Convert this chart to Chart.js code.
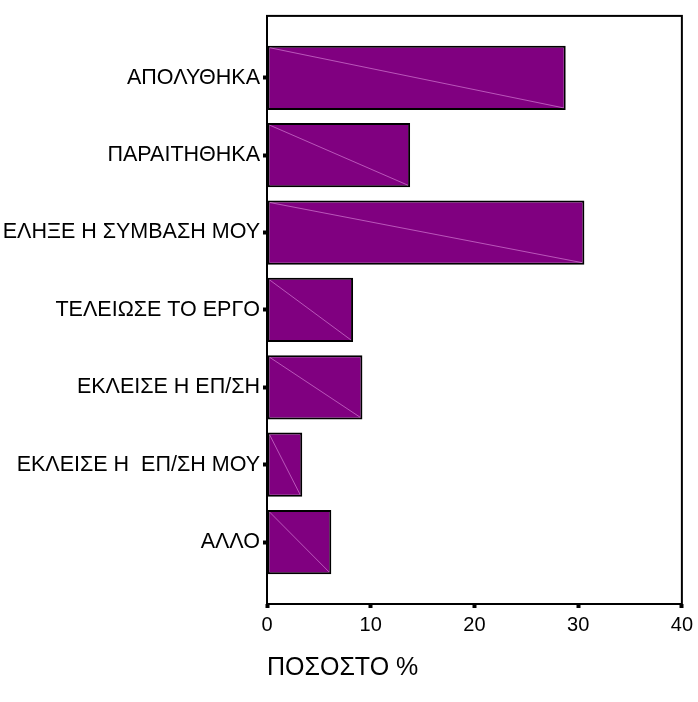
<!DOCTYPE html>
<html>
<head>
<meta charset="utf-8">
<script src="https://cdn.jsdelivr.net/npm/chart.js@4.4.0/dist/chart.umd.min.js"></script>
<style>
  html, body { margin: 0; padding: 0; background: #ffffff; }
  #wrap { width: 698px; height: 702px; }
</style>
</head>
<body>
<div id="wrap"><canvas id="myChart" width="698" height="702"></canvas></div>
<script>
'use strict';

//***********Data***********
let categories = [
  'ΑΠΟΛΥΘΗΚΑ',
  'ΠΑΡΑΙΤΗΘΗΚΑ',
  'ΕΛΗΞΕ Η ΣΥΜΒΑΣΗ ΜΟΥ',
  'ΤΕΛΕΙΩΣΕ ΤΟ ΕΡΓΟ',
  'ΕΚΛΕΙΣΕ Η ΕΠ/ΣΗ',
  'ΕΚΛΕΙΣΕ Η  ΕΠ/ΣΗ ΜΟΥ',
  'ΑΛΛΟ'
];
let percentages = [28.8, 13.8, 30.6, 8.3, 9.2, 3.4, 6.2];
let xTicks = [0, 10, 20, 30, 40];
let xTitle = 'ΠΟΣΟΣΤΟ %';

let labelFont = 'Liberation Sans, Arial, sans-serif';

// bars sit on index positions of a linear axis so the empty band above/below fits
let barPoints = [];
for (let i = 0; i < categories.length; i++) {
  barPoints.push({ x: percentages[i], y: i });
}

//***********Plugins***********
// white page, frame round the plot, faint diagonal on each bar
let framePlugin = {
  id: 'frame',
  beforeDraw(chart) {
    let ctx = chart.ctx;
    ctx.save();
    ctx.fillStyle = '#ffffff';
    ctx.fillRect(0, 0, chart.width, chart.height);
    ctx.restore();
  },
  afterDatasetsDraw(chart) {
    let ctx = chart.ctx;
    let area = chart.chartArea;
    let bars = chart.getDatasetMeta(0).data;
    ctx.save();
    ctx.strokeStyle = 'rgba(255, 190, 255, 0.45)';
    ctx.lineWidth = 1;
    for (let i = 0; i < bars.length; i++) {
      let b = bars[i];
      let half = b.height / 2 - 2;
      ctx.beginPath();
      ctx.moveTo(b.base + 2, b.y - half);
      ctx.lineTo(b.x - 2, b.y + half);
      ctx.stroke();
    }
    ctx.strokeStyle = '#000000';
    ctx.lineWidth = 2;
    ctx.strokeRect(area.left, area.top, area.right - area.left, area.bottom - area.top);
    ctx.restore();
  }
};

//***********Chart***********
let ctx = document.getElementById('myChart').getContext('2d');

let myChartObj = {
  type: 'bar',
  data: {
    datasets: [{
      data: barPoints,
      backgroundColor: '#800080',
      borderColor: '#000000',
      borderWidth: 2,
      borderSkipped: false,
      barPercentage: 0.83,
      categoryPercentage: 1
    }]
  },
  options: {
    indexAxis: 'y',
    responsive: false,
    animation: false,
    devicePixelRatio: 1,
    layout: {
      padding: { top: 15, right: 14, bottom: 15, left: 0 }
    },
    plugins: {
      legend: { display: false },
      tooltip: { enabled: false }
    },
    scales: {
      x: {
        type: 'linear',
        position: 'bottom',
        min: 0,
        max: 40,
        afterBuildTicks(scale) {
          scale.ticks = xTicks.map(v => ({ value: v }));
        },
        afterFit(scale) {
          scale.height = 83;
        },
        ticks: {
          color: '#000000',
          padding: 5,
          font: { family: labelFont, size: 20 }
        },
        grid: {
          drawOnChartArea: false,
          drawTicks: true,
          tickLength: 4,
          tickWidth: 4,
          tickColor: '#000000'
        },
        border: { display: false },
        title: {
          display: true,
          text: xTitle,
          align: 'start',
          color: '#000000',
          font: { family: labelFont, size: 25 },
          padding: { top: 4, bottom: 4 }
        }
      },
      y: {
        type: 'linear',
        reverse: true,
        offset: false,
        min: -0.8,
        max: 6.8,
        afterBuildTicks(scale) {
          scale.ticks = categories.map((c, i) => ({ value: i }));
        },
        afterFit(scale) {
          scale.width = 267;
        },
        ticks: {
          autoSkip: false,
          color: '#000000',
          padding: 3,
          font: { family: labelFont, size: 21.5 },
          callback: function (value) {
            return categories[value];
          }
        },
        grid: {
          offset: false,
          drawOnChartArea: false,
          drawTicks: true,
          tickLength: 4,
          tickWidth: 4,
          tickColor: '#000000'
        },
        border: { display: false }
      }
    }
  },
  plugins: [framePlugin]
};

new Chart(ctx, myChartObj);
</script>
</body>
</html>
